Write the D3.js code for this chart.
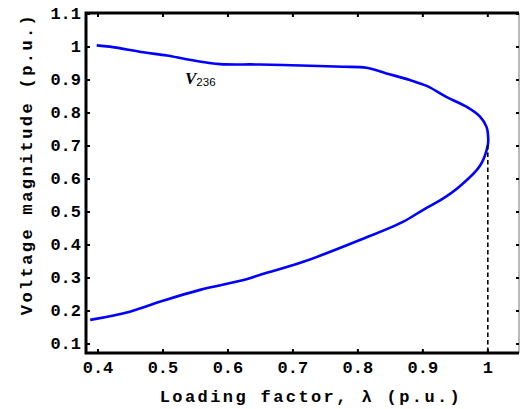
<!DOCTYPE html>
<html lang="en">
  <head>
    <meta charset="utf-8">
    <title>PV nose curve</title>
    <script src="https://cdn.jsdelivr.net/npm/d3@7"></script>
    <style>
      body { margin: 0; background: #fff; }
    </style>
  </head>
  <body>
    <div id='main'></div>
  </body>

  <script type='text/javascript'>

      // nose curve, upper branch then lower branch (lambda, V)
      const lambdaPts = [0.398, 0.418, 0.470, 0.506, 0.536, 0.567, 0.588, 0.649, 0.726, 0.777, 0.813,
                         0.844, 0.880, 0.906, 0.936, 0.967, 0.988, 0.998, 1.0005, 1.0,
                         0.988, 0.957, 0.929, 0.900, 0.870, 0.803, 0.716, 0.649, 0.624,
                         0.557, 0.500, 0.449, 0.388];
      const voltPts   = [1.005, 1.001, 0.984, 0.974, 0.963, 0.953, 0.948, 0.947, 0.943, 0.940, 0.937,
                         0.920, 0.900, 0.882, 0.849, 0.819, 0.789, 0.758, 0.728, 0.703,
                         0.640, 0.578, 0.538, 0.506, 0.471, 0.415, 0.349, 0.309, 0.294,
                         0.264, 0.231, 0.198, 0.173];

      const xTicks = [0.4, 0.5, 0.6, 0.7, 0.8, 0.9, 1];
      const yTicks = [0.1, 0.2, 0.3, 0.4, 0.5, 0.6, 0.7, 0.8, 0.9, 1, 1.1];
      const criticalLambda = [1.0];
      const criticalV = [0.703];

      const W = 520, H = 409;
      const pLeft = 86, pRight = 519, pTop = 13, pBottom = 353;

      let svg = d3.select('#main').append('svg')
        .attr('width', W)
        .attr('height', H)

      const x = d3.scaleLinear().domain([0.3815, 1.048]).range([pLeft, pRight]);
      const y = d3.scaleLinear().domain([0.0727, 1.103]).range([pBottom, pTop]);

      const tickFont = "'Liberation Mono', 'Courier New', monospace";

      // curve
      const pts = lambdaPts.map((l, i) => [l, voltPts[i]]);
      svg.append('path')
        .datum(pts)
        .attr('d', d3.line().x(d => x(d[0])).y(d => y(d[1])).curve(d3.curveCatmullRom.alpha(0.5)))
        .attr('fill', 'none')
        .attr('stroke', '#0000ff')
        .attr('stroke-width', 2.6)
        .attr('stroke-linejoin', 'round')

      // dashed line at the critical point
      svg.selectAll('line.crit')
        .data(criticalLambda)
        .enter()
        .append('line')
        .attr('class', 'crit')
        .attr('x1', d => x(d)).attr('x2', d => x(d))
        .attr('y1', (d, i) => y(criticalV[i])).attr('y2', pBottom)
        .attr('stroke', '#000')
        .attr('stroke-width', 1.6)
        .attr('stroke-dasharray', '4.5,3')

      // frame: thin right edge, thick left/top/bottom
      svg.append('line')
        .attr('x1', pRight).attr('x2', pRight).attr('y1', pTop).attr('y2', pBottom)
        .attr('stroke', '#777').attr('stroke-width', 1)

      // ticks (inward) on all four sides
      const tk = 3;
      svg.selectAll('line.xb').data(xTicks).enter().append('line')
        .attr('x1', d => x(d)).attr('x2', d => x(d))
        .attr('y1', pBottom).attr('y2', pBottom - tk - 1)
        .attr('stroke', '#000').attr('stroke-width', 2)
      svg.selectAll('line.xt').data(xTicks).enter().append('line')
        .attr('x1', d => x(d)).attr('x2', d => x(d))
        .attr('y1', pTop).attr('y2', pTop + tk + 1)
        .attr('stroke', '#000').attr('stroke-width', 2)
      svg.selectAll('line.yl').data(yTicks).enter().append('line')
        .attr('x1', pLeft).attr('x2', pLeft + tk + 1)
        .attr('y1', d => y(d)).attr('y2', d => y(d))
        .attr('stroke', '#000').attr('stroke-width', 2)
      svg.selectAll('line.yr').data(yTicks).enter().append('line')
        .attr('x1', pRight).attr('x2', pRight - tk)
        .attr('y1', d => y(d)).attr('y2', d => y(d))
        .attr('stroke', '#000').attr('stroke-width', 2)

      svg.append('path')
        .attr('d', `M${pRight},${pTop}H${pLeft}V${pBottom}H${pRight}`)
        .attr('fill', 'none')
        .attr('stroke', '#000')
        .attr('stroke-width', 3)

      // tick labels
      svg.selectAll('text.xl').data(xTicks).enter().append('text')
        .attr('x', d => x(d))
        .attr('y', 373)
        .attr('text-anchor', 'middle')
        .attr('font-family', tickFont)
        .attr('font-weight', 'bold')
        .attr('font-size', '17px')
        .text(d => d3.format('~g')(d))

      svg.selectAll('text.yl').data(yTicks).enter().append('text')
        .attr('x', 81)
        .attr('y', d => y(d) + 5)
        .attr('text-anchor', 'end')
        .attr('font-family', tickFont)
        .attr('font-weight', 'bold')
        .attr('font-size', '17px')
        .text(d => d3.format('~g')(d))

      // axis titles
      svg.append('text')
        .attr('x', 311)
        .attr('y', 402)
        .attr('text-anchor', 'middle')
        .attr('font-family', tickFont)
        .attr('font-weight', 'bold')
        .attr('font-size', '17px')
        .attr('letter-spacing', '2.4px')
        .text('Loading factor, λ (p.u.)')

      svg.append('text')
        .attr('transform', 'translate(32,164) rotate(-90)')
        .attr('text-anchor', 'middle')
        .attr('font-family', tickFont)
        .attr('font-weight', 'bold')
        .attr('font-size', '17px')
        .attr('letter-spacing', '2.4px')
        .text('Voltage magnitude (p.u.)')

      // curve label
      const lab = svg.append('text')
        .attr('x', 185)
        .attr('y', 84)
      lab.append('tspan')
        .attr('font-family', "'Liberation Serif', serif")
        .attr('font-style', 'italic')
        .attr('font-weight', 'bold')
        .attr('font-size', '17px')
        .text('V')
      lab.append('tspan')
        .attr('font-family', "'Liberation Sans', sans-serif")
        .attr('font-size', '11.5px')
        .attr('dy', 2)
        .text('236')

  </script>
</html>
